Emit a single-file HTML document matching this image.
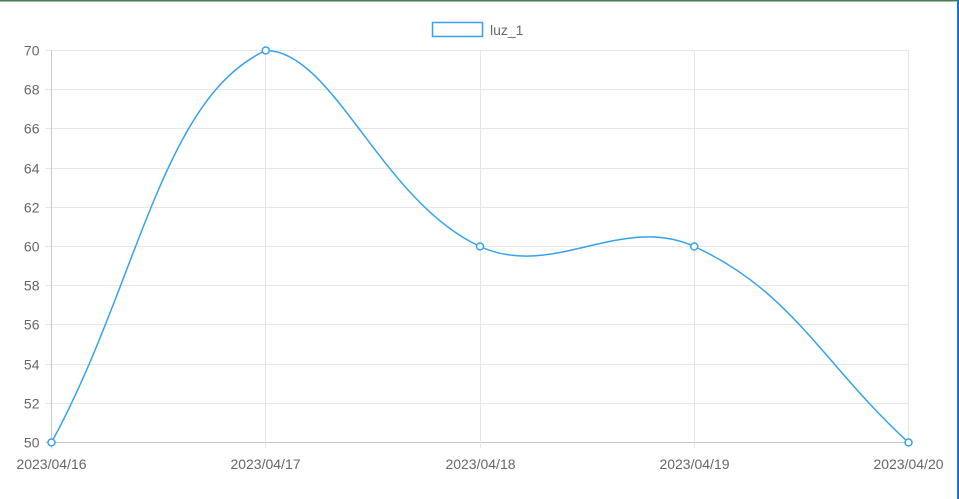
<!DOCTYPE html>
<html><head><meta charset="utf-8"><style>
html,body{margin:0;padding:0;background:#fff;}
#wrap{position:relative;width:959px;height:499px;overflow:hidden;}
svg{position:absolute;left:0;top:0;}
text{font-family:"Liberation Sans",sans-serif;font-size:14px;fill:#666;}
</style></head><body>
<div id="wrap">
<svg id="chart" width="959" height="499"></svg>
</div>
<script>
const categories = ["2023/04/16","2023/04/17","2023/04/18","2023/04/19","2023/04/20"];
const values = [50, 70, 60, 60, 50];
const yTicks = [50,52,54,56,58,60,62,64,66,68,70];
const seriesName = "luz_1";

const NS="http://www.w3.org/2000/svg";
const svg=document.getElementById('chart');
const L=51.5,R=908.5,T=50.5,B=442.5,yMin=50,yMax=70;
const xs=i=>L+(R-L)*i/(categories.length-1);
const ys=v=>B-(B-T)*(v-yMin)/(yMax-yMin);
function el(tag,attrs,parent){const e=document.createElementNS(NS,tag);for(const k in attrs)e.setAttribute(k,attrs[k]);(parent||svg).appendChild(e);return e;}

let fb=el('rect',{x:0,y:0,width:959,height:1.5,fill:'#4a7a4f'});


let rb=el('rect',{x:957,y:0,width:2,height:499,fill:'#1a73d9'});



yTicks.forEach(v=>{
  const y=Math.round(ys(v)-0.5)+0.5;
  const g=el('line',{x1:L-6,x2:R,y1:y,y2:y,stroke:v===yMin?'#c8c8c8':'#e6e6e6','stroke-width':1});
  
  
  const t=el('text',{x:L-12,y:y+5,'text-anchor':'end'});
  t.textContent=v;
  
  
});
categories.forEach((c,i)=>{
  const x=Math.round(xs(i)-0.5)+0.5;
  const g=el('line',{x1:x,x2:x,y1:T,y2:B+6,stroke:i===0?'#c8c8c8':'#e6e6e6','stroke-width':1});
  
  
  const t=el('text',{x:x,y:469,'text-anchor':'middle'});
  t.textContent=c;
  
  
});

const pts=values.map((v,i)=>({x:xs(i),y:ys(v)}));
const tension=0.4;
const clampY=y=>Math.max(T,Math.min(B,y));
const clampX=x=>Math.max(L,Math.min(R,x));
const cps=pts.map((p,i)=>{
  const prev=pts[i-1]||p, next=pts[i+1]||p;
  const d01=Math.hypot(p.x-prev.x,p.y-prev.y), d12=Math.hypot(next.x-p.x,next.y-p.y);
  let s01=d01/(d01+d12), s12=d12/(d01+d12);
  if(isNaN(s01))s01=0; if(isNaN(s12))s12=0;
  const fa=tension*s01, fbb=tension*s12;
  return {c1:{x:clampX(p.x-fa*(next.x-prev.x)),y:clampY(p.y-fa*(next.y-prev.y))},
          c2:{x:clampX(p.x+fbb*(next.x-prev.x)),y:clampY(p.y+fbb*(next.y-prev.y))}};
});
let d=`M${pts[0].x},${pts[0].y}`;
for(let i=1;i<pts.length;i++){
  const a=cps[i-1].c2,b=cps[i].c1;
  d+=` C${a.x},${a.y} ${b.x},${b.y} ${pts[i].x},${pts[i].y}`;
}
const line=el('path',{d:d,fill:'none',stroke:'#36a2eb','stroke-width':1.5});


pts.forEach(p=>{
  const c=el('circle',{cx:p.x,cy:p.y,r:3.5,fill:'#fff',stroke:'#36a2eb','stroke-width':1.5});
  
  
});

const lg=el('g',{});


el('rect',{x:432.5,y:22.5,width:50,height:14,fill:'#fff',stroke:'#36a2eb','stroke-width':1.5},lg);
const lt=el('text',{x:490,y:35},lg);
lt.textContent=seriesName;


</script>
</body></html>
